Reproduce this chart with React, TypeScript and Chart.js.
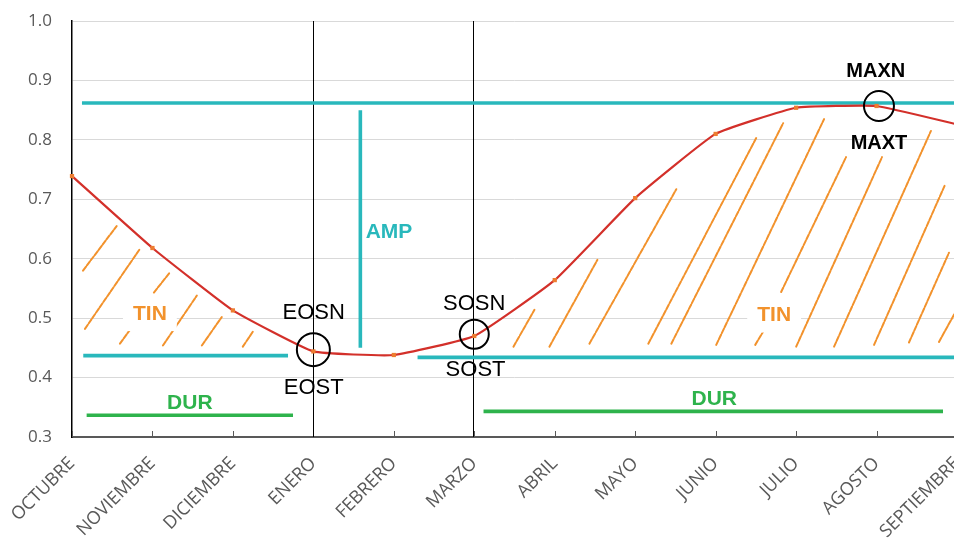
import React, { useEffect, useRef } from "react";
import { Chart, registerables } from "chart.js";

Chart.register(...registerables);

// ---- data ----
const months = [
  "OCTUBRE", "NOVIEMBRE", "DICIEMBRE", "ENERO", "FEBRERO", "MARZO",
  "ABRIL", "MAYO", "JUNIO", "JULIO", "AGOSTO", "SEPTIEMBRE",
];
const ndviValues = [0.739, 0.618, 0.513, 0.444, 0.438, 0.47, 0.564, 0.702, 0.81, 0.854, 0.857, 0.826];
const yTicks = { min: 0.3, max: 1.0, step: 0.1 };

// annotation geometry in data units: [xIndex1, value1, xIndex2, value2]
const cyanLines = [
  [0.124, 0.862, 11.3, 0.862],
  [0.14, 0.437, 2.685, 0.437],
  [4.295, 0.434, 11.3, 0.434],
  [3.584, 0.85, 3.584, 0.45],
];
const greenLines = [
  [0.182, 0.3365, 2.747, 0.3365],
  [5.115, 0.3432, 10.826, 0.3432],
];
const blackVerticals = [3.0, 4.98];
const circles = [
  [3.0, 0.447, 16.5],
  [5.0, 0.473, 14.5],
  [10.03, 0.857, 15],
];
const hatchSegments = [
  [0.137, 0.58, 0.555, 0.655],
  [0.161, 0.482, 0.844, 0.6165],
  [0.596, 0.457, 0.782, 0.492],
  [1.018, 0.543, 1.217, 0.577],
  [1.13, 0.454, 1.552, 0.538],
  [1.614, 0.454, 1.862, 0.502],
  [2.123, 0.452, 2.247, 0.477],
  [5.487, 0.452, 5.748, 0.514],
  [5.934, 0.452, 6.53, 0.598],
  [6.431, 0.457, 7.511, 0.717],
  [7.163, 0.457, 8.504, 0.803],
  [7.449, 0.457, 8.839, 0.828],
  [8.007, 0.455, 9.348, 0.835],
  [8.492, 0.455, 8.603, 0.48],
  [8.814, 0.544, 9.621, 0.771],
  [9.001, 0.452, 10.068, 0.771],
  [9.472, 0.452, 10.676, 0.815],
  [9.969, 0.455, 10.85, 0.724],
  [10.403, 0.459, 10.9, 0.61],
  [10.776, 0.46, 11.049, 0.527],
];
// [text, xIndex, value, kind]
const labels: [string, number, number, string][] = [
  ["EOSN", 3.004, 0.51, "black"],
  ["EOST", 3.004, 0.385, "black"],
  ["SOSN", 4.999, 0.526, "black"],
  ["SOST", 5.016, 0.415, "black"],
  ["MAXN", 9.99, 0.916, "blackBold"],
  ["MAXT", 10.03, 0.795, "blackBold"],
  ["AMP", 3.65, 0.6456, "amp"],
  ["TIN", 0.968, 0.5085, "tin"],
  ["TIN", 8.727, 0.506, "tin"],
  ["DUR", 1.465, 0.358, "dur"],
  ["DUR", 7.983, 0.3645, "dur"],
];

// ---- styles ----
const CYAN = "#29b8bc";
const GREEN = "#2eb34c";
const ORANGE = "#f2922c";
const RED = "#d3302a";
const POINT = "#ed7d31";
const GRID = "#d9d9d9";
const AXIS_TEXT = "#595959";
const LABEL_FONT = "'Liberation Sans', Arial, sans-serif";
const CANVAS_W = 961;
const CANVAS_H = 539;

const labelStyles: Record<string, { font: string; color: string; align: CanvasTextAlign; box?: boolean }> = {
  black: { font: `22px ${LABEL_FONT}`, color: "#000", align: "center" },
  blackBold: { font: `bold 20px ${LABEL_FONT}`, color: "#000", align: "center" },
  amp: { font: `bold 21px ${LABEL_FONT}`, color: CYAN, align: "left" },
  tin: { font: `bold 21px ${LABEL_FONT}`, color: ORANGE, align: "center", box: true },
  dur: { font: `bold 21px ${LABEL_FONT}`, color: GREEN, align: "center" },
};

const annotationPlugin = {
  id: "phenoAnnotations",
  beforeDatasetsDraw(chart: any) {
    const { ctx, scales, chartArea } = chart;
    const x = scales.x;
    const y = scales.y;
    ctx.save();
    // inward tick marks on the x axis
    ctx.strokeStyle = AXIS_TEXT;
    ctx.lineWidth = 1;
    months.forEach((_, i) => {
      const px = Math.round(x.getPixelForValue(i)) + 0.5;
      ctx.beginPath();
      ctx.moveTo(px, chartArea.bottom);
      ctx.lineTo(px, chartArea.bottom - 6);
      ctx.stroke();
    });
    // hatching
    ctx.strokeStyle = ORANGE;
    ctx.lineWidth = 2;
    ctx.lineCap = "round";
    ctx.setLineDash([5, 1.5]);
    hatchSegments.forEach(([x1, v1, x2, v2]) => {
      ctx.beginPath();
      ctx.moveTo(x.getPixelForValue(x1), y.getPixelForValue(v1));
      ctx.lineTo(x.getPixelForValue(x2), y.getPixelForValue(v2));
      ctx.stroke();
    });
    ctx.setLineDash([]);
    // black verticals
    ctx.strokeStyle = "#000";
    ctx.lineWidth = 1;
    ctx.lineCap = "butt";
    blackVerticals.forEach((xi) => {
      const px = Math.round(x.getPixelForValue(xi)) + 0.5;
      ctx.beginPath();
      ctx.moveTo(px, y.getPixelForValue(yTicks.max));
      ctx.lineTo(px, y.getPixelForValue(yTicks.min));
      ctx.stroke();
    });
    // cyan + green lines
    const drawLines = (arr: number[][], color: string, w: number) => {
      ctx.strokeStyle = color;
      ctx.lineWidth = w;
      arr.forEach(([x1, v1, x2, v2]) => {
        ctx.beginPath();
        ctx.moveTo(x.getPixelForValue(x1), y.getPixelForValue(v1));
        ctx.lineTo(x.getPixelForValue(x2), y.getPixelForValue(v2));
        ctx.stroke();
      });
    };
    drawLines(cyanLines, CYAN, 3.6);
    drawLines(greenLines, GREEN, 3.6);
    ctx.restore();
  },
  afterDatasetsDraw(chart: any) {
    const { ctx, scales } = chart;
    const x = scales.x;
    const y = scales.y;
    ctx.save();
    ctx.strokeStyle = "#000";
    ctx.lineWidth = 2;
    circles.forEach(([xi, v, r]) => {
      ctx.beginPath();
      ctx.arc(x.getPixelForValue(xi), y.getPixelForValue(v), r, 0, Math.PI * 2);
      ctx.stroke();
    });
    ctx.textBaseline = "middle";
    labels.forEach(([text, xi, v, kind]) => {
      const st = labelStyles[kind];
      const px = x.getPixelForValue(xi);
      const py = y.getPixelForValue(v);
      ctx.font = st.font;
      ctx.textAlign = st.align;
      if (st.box) {
        const w = ctx.measureText(text).width + 20;
        ctx.fillStyle = "#fff";
        ctx.fillRect(px - w / 2, py - 18, w, 36);
      }
      ctx.fillStyle = st.color;
      ctx.fillText(text, px, py + 1);
    });
    ctx.restore();
  },
};

export default function App() {
  const canvasRef = useRef<HTMLCanvasElement | null>(null);

  useEffect(() => {
    if (!canvasRef.current) return;
    const chart = new Chart(canvasRef.current, {
      type: "line",
      data: {
        labels: months,
        datasets: [
          {
            data: ndviValues,
            borderColor: RED,
            borderWidth: 2.2,
            tension: 0.12,
            pointStyle: "rect",
            pointRadius: 3,
            pointBackgroundColor: POINT,
            pointBorderWidth: 0,
            fill: false,
          },
        ],
      },
      options: {
        animation: false,
        responsive: false,
        maintainAspectRatio: false,
        devicePixelRatio: 1,
        layout: { padding: { top: 21, left: 0, right: 0, bottom: 0 } },
        plugins: { legend: { display: false }, tooltip: { enabled: false } },
        scales: {
          x: {
            offset: false,
            grid: { drawOnChartArea: false, drawTicks: false },
            border: { display: true, color: "#595959", width: 2 },
            ticks: {
              autoSkip: false,
              maxRotation: 45,
              minRotation: 45,
              padding: 16,
              color: AXIS_TEXT,
              font: { family: "'Open Sans', sans-serif", size: 18 },
            },
            afterFit: (scale: any) => {
              scale.height = 102;
              scale.paddingLeft = 0;
              scale.paddingRight = 0;
            },
          },
          y: {
            min: yTicks.min,
            max: yTicks.max,
            grid: { color: GRID, lineWidth: 1, drawTicks: false },
            border: { display: true, color: "#000", width: 1.5 },
            ticks: {
              stepSize: yTicks.step,
              padding: 20,
              color: AXIS_TEXT,
              font: { family: "'Open Sans', sans-serif", size: 17 },
              callback: (v: any) => Number(v).toFixed(1),
            },
            afterFit: (scale: any) => {
              scale.width = 72;
              scale.paddingTop = 0;
              scale.paddingBottom = 0;
            },
          },
        },
      },
      plugins: [annotationPlugin],
    });
    return () => chart.destroy();
  }, []);

  return (
    <div
      style={{
        position: "fixed",
        left: 0,
        top: 0,
        width: 954,
        height: CANVAS_H,
        overflow: "hidden",
        background: "#fff",
      }}
    >
      <div style={{ width: CANVAS_W, height: CANVAS_H }}>
        <canvas ref={canvasRef} width={CANVAS_W} height={CANVAS_H} style={{ display: "block" }} />
      </div>
    </div>
  );
}
